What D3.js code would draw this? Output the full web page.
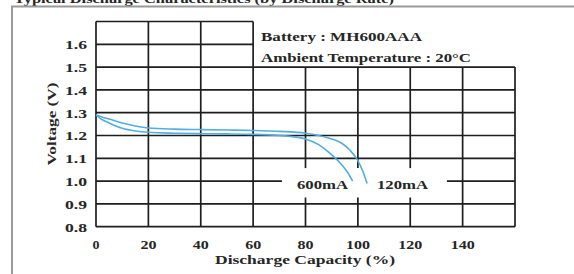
<!DOCTYPE html>
<html><head><meta charset="utf-8">
<script src="https://cdn.jsdelivr.net/npm/d3@7"></script>
<style>body{margin:0;background:#fff}svg{display:block}text{font-family:"Liberation Serif","DejaVu Serif",serif;font-weight:bold;fill:#262626}</style>
</head><body>
<script>
const xTicks = [0, 20, 40, 60, 80, 100, 120, 140];
const yTicks = [0.8, 0.9, 1.0, 1.1, 1.2, 1.3, 1.4, 1.5, 1.6];
const cap600 = [0, 2, 5, 10, 15, 20, 30, 40, 50, 60, 70, 75, 80, 85, 88, 91, 94, 96, 98];
const volt600 = [1.29, 1.272, 1.255, 1.232, 1.22, 1.214, 1.21, 1.208, 1.207, 1.205, 1.2, 1.195, 1.185, 1.16, 1.135, 1.105, 1.07, 1.04, 1.0];
const cap120 = [0, 2, 5, 10, 15, 20, 30, 40, 50, 60, 70, 80, 85, 90, 94, 97, 100, 102, 103.5];
const volt120 = [1.29, 1.282, 1.272, 1.255, 1.242, 1.233, 1.228, 1.226, 1.224, 1.222, 1.218, 1.21, 1.2, 1.185, 1.165, 1.135, 1.09, 1.04, 0.99];
const seriesNames = ["600mA", "120mA"];
const legendLines = ["Battery : MH600AAA", "Ambient Temperature : 20°C"];
const title = "Typical Discharge Characteristics (by Discharge Rate)";

const W = 574, H = 274;
const svg = d3.select("body").append("svg").attr("width", W).attr("height", H);
const x = d3.scaleLinear().domain([0, 160]).range([96, 515]);
const y = d3.scaleLinear().domain([0.8, 1.7]).range([226.7, 21.5]);
const SG = "spacingAndGlyphs";

// outer frame & clipped title (cut off at the top edge, as in the source)
svg.append("text").attr("x", 14).attr("y", 2.5).attr("font-size", 12)
  .attr("textLength", 380).attr("lengthAdjust", SG).text(title);
svg.append("path").attr("d", `M12,${H} V6.5 H${W}`).attr("fill", "none").attr("stroke", "#9a9a9a").attr("stroke-width", 2);

const g = svg.append("g").attr("stroke", "#1e1e1e").attr("stroke-width", 1.7).attr("fill", "none");
[1.7, 1.6].forEach(v => g.append("line").attr("x1", x(0)).attr("x2", x(60)).attr("y1", y(v)).attr("y2", y(v)));
[1.5, 1.4, 1.3, 1.2, 1.1, 0.9, 0.8].forEach(v => g.append("line").attr("x1", x(0)).attr("x2", x(160)).attr("y1", y(v)).attr("y2", y(v)));
g.append("line").attr("x1", x(0)).attr("x2", x(71)).attr("y1", y(1.0)).attr("y2", y(1.0));
g.append("line").attr("x1", x(134)).attr("x2", x(160)).attr("y1", y(1.0)).attr("y2", y(1.0));
[0, 20, 40, 60].forEach(c => g.append("line").attr("x1", x(c)).attr("x2", x(c)).attr("y1", y(0.8)).attr("y2", y(1.7)));
[140, 160].forEach(c => g.append("line").attr("x1", x(c)).attr("x2", x(c)).attr("y1", y(0.8)).attr("y2", y(1.5)));
[80, 100, 120].forEach(c => {
  g.append("line").attr("x1", x(c)).attr("x2", x(c)).attr("y1", y(1.5)).attr("y2", y(1.057));
  g.append("line").attr("x1", x(c)).attr("x2", x(c)).attr("y1", y(0.8)).attr("y2", y(0.928));
});

// curves
const line = d3.line().x(d => x(d[0])).y(d => y(d[1])).curve(d3.curveMonotoneX);
[[cap600, volt600], [cap120, volt120]].forEach(([c, v]) => {
  svg.append("path").datum(c.map((d, i) => [d, v[i]])).attr("d", line)
    .attr("fill", "none").attr("stroke", "#52ade0").attr("stroke-width", 1.6);
});

// tick labels
svg.selectAll(".yt").data(yTicks).enter().append("text")
  .attr("x", 87).attr("y", d => y(d) + 4.8).attr("text-anchor", "end").attr("font-size", 12.5)
  .attr("textLength", 22).attr("lengthAdjust", SG)
  .text(d => d.toFixed(1));
svg.selectAll(".xt").data(xTicks).enter().append("text")
  .attr("x", d => x(d)).attr("y", 248.5).attr("text-anchor", "middle").attr("font-size", 12.5)
  .attr("textLength", d => String(d).length === 1 ? 7 : String(d).length === 2 ? 16 : 24).attr("lengthAdjust", SG)
  .text(d => d);

// axis titles
svg.append("text").attr("x", 305).attr("y", 264).attr("text-anchor", "middle").attr("font-size", 13)
  .attr("textLength", 180).attr("lengthAdjust", SG).text("Discharge Capacity (%)");
svg.append("text").attr("transform", "translate(56,124) rotate(-90)").attr("text-anchor", "middle").attr("font-size", 13)
  .attr("textLength", 83).attr("lengthAdjust", SG).text("Voltage (V)");

// series labels
svg.append("text").attr("x", 322.5).attr("y", 189).attr("text-anchor", "middle").attr("font-size", 12.5)
  .attr("textLength", 51).attr("lengthAdjust", SG).text(seriesNames[0]);
svg.append("text").attr("x", 402.5).attr("y", 189).attr("text-anchor", "middle").attr("font-size", 12.5)
  .attr("textLength", 51).attr("lengthAdjust", SG).text(seriesNames[1]);

// legend text
const legendW = [161, 210];
legendLines.forEach((t, i) => svg.append("text").attr("x", 261).attr("y", 41 + i * 20.5).attr("font-size", 12.5)
  .attr("textLength", legendW[i]).attr("lengthAdjust", SG).text(t));
</script>
</body></html>
